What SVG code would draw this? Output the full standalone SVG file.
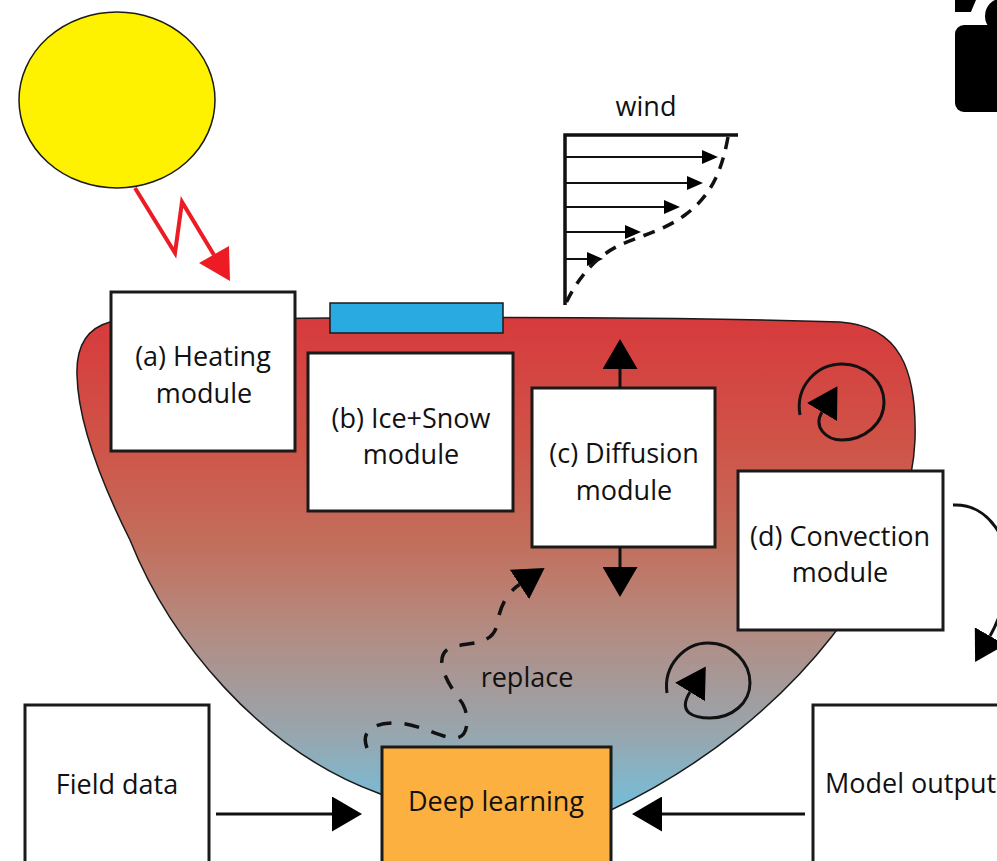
<svg xmlns="http://www.w3.org/2000/svg" width="997" height="861" viewBox="0 0 997 861">
  <style>
    .box { fill: #ffffff; stroke: #1a1a1a; stroke-width: 3; }
    .lbl { font-family: "Open Sans", "Noto Sans", sans-serif; font-size: 27px; fill: #111111; text-anchor: middle; }
    .ln { fill: none; stroke: #111111; stroke-width: 3; }
    .thin { fill: none; stroke: #111111; stroke-width: 2; }
    .dash { fill: none; stroke: #111111; stroke-width: 3.5; stroke-dasharray: 15 13; }
  </style>
  <defs>
    <linearGradient id="water" gradientUnits="userSpaceOnUse" x1="0" y1="318" x2="0" y2="830">
      <stop offset="0" stop-color="#D73A3C"/>
      <stop offset="0.25" stop-color="#CF5448"/>
      <stop offset="0.45" stop-color="#C2705E"/>
      <stop offset="0.6" stop-color="#B48A80"/>
      <stop offset="0.72" stop-color="#A59A9A"/>
      <stop offset="0.82" stop-color="#96A7B0"/>
      <stop offset="0.92" stop-color="#7EB8CF"/>
      <stop offset="1" stop-color="#66C2E2"/>
    </linearGradient>
    <marker id="big" viewBox="0 0 30 35" refX="0" refY="17.5" markerWidth="30" markerHeight="35" markerUnits="userSpaceOnUse" orient="auto">
      <path d="M0,0 L30,17.5 L0,35 Z" fill="#000"/>
    </marker>
    <marker id="small" viewBox="0 0 16 14" refX="0" refY="7" markerWidth="16" markerHeight="14" markerUnits="userSpaceOnUse" orient="auto">
      <path d="M0,0 L16,7 L0,14 Z" fill="#000"/>
    </marker>
  </defs>

  <!-- sun and radiation -->
  <g id="sun">
    <ellipse cx="117" cy="100" rx="98" ry="88" fill="#FFF200" stroke="#1a1a1a" stroke-width="1.5"/>
  </g>
  <g id="radiation">
    <polyline points="135,188 175,253 182,202 214,255" fill="none" stroke="#ED1C24" stroke-width="4"/>
    <polygon points="230,281 199,263 229,246" fill="#ED1C24"/>
  </g>

  <!-- lake body -->
  <g id="lake">
    <path d="M110,322 C300,316 650,316 840,322 C900,326 917,370 915,440 C910,560 800,720 611,810 L495,840 L378,793 C260,750 170,640 130,540 C100,480 78,420 77,375 C76,345 88,328 110,322 Z" fill="url(#water)" stroke="#1a1a1a" stroke-width="1.5"/>
  </g>

  <!-- ice cover -->
  <g id="ice">
    <rect x="330" y="303" width="173" height="30" fill="#29ABE2" stroke="#1a1a1a" stroke-width="1.5"/>
  </g>

  <!-- wind profile -->
  <g id="wind">
    <text class="lbl" x="646" y="116">wind</text>
    <polyline points="565,305 565,135 738,135" fill="none" stroke="#111" stroke-width="3.5"/>
    <line class="thin" x1="565" y1="157" x2="702" y2="157" marker-end="url(#small)"/>
    <line class="thin" x1="565" y1="183" x2="687" y2="183" marker-end="url(#small)"/>
    <line class="thin" x1="565" y1="207" x2="664" y2="207" marker-end="url(#small)"/>
    <line class="thin" x1="565" y1="232" x2="625" y2="232" marker-end="url(#small)"/>
    <line class="thin" x1="565" y1="259" x2="587" y2="259" marker-end="url(#small)"/>
    <path d="M728,137 C722,170 712,195 685,215 C665,230 640,236 620,245 C595,257 578,278 566,303" fill="none" stroke="#111" stroke-width="3.5" stroke-dasharray="12 9"/>
  </g>

  <!-- modules -->
  <g id="heating">
    <rect class="box" x="111" y="292" width="184" height="159"/>
    <text class="lbl" x="203" y="366">(a) Heating</text>
    <text class="lbl" x="204" y="403">module</text>
  </g>
  <g id="icesnow">
    <rect class="box" x="308" y="353" width="205" height="158"/>
    <text class="lbl" x="411" y="428">(b) Ice+Snow</text>
    <text class="lbl" x="411" y="464">module</text>
  </g>
  <g id="diffusion">
    <rect class="box" x="532" y="388" width="183" height="159"/>
    <text class="lbl" x="624" y="463">(c) Diffusion</text>
    <text class="lbl" x="624" y="500">module</text>
  </g>
  <g id="convection">
    <rect class="box" x="738" y="471" width="205" height="159"/>
    <text class="lbl" x="840" y="546">(d) Convection</text>
    <text class="lbl" x="840" y="582">module</text>
  </g>
  <g id="fielddata">
    <rect class="box" x="25" y="705" width="184" height="170"/>
    <text class="lbl" x="117" y="794">Field data</text>
  </g>
  <g id="deeplearning">
    <rect class="box" x="382" y="747" width="229" height="130" style="fill:#FBB040"/>
    <text class="lbl" x="496" y="811">Deep learning</text>
  </g>
  <g id="modeloutput">
    <rect class="box" x="813" y="705" width="200" height="170"/>
    <text class="lbl" x="825" y="793" style="text-anchor:start">Model output</text>
  </g>

  <!-- open access badge -->
  <g id="badge" fill="#000">
    <rect x="955" y="25" width="60" height="87" rx="9"/>
    <path d="M955,0 L976,0 C974,5 972,9 971,12 L955,12 Z"/>
    <circle cx="1003" cy="16" r="18"/>
  </g>

  <!-- connectors -->
  <g id="connectors">
    <line class="ln" x1="620" y1="388" x2="620" y2="369" marker-end="url(#big)"/>
    <line class="ln" x1="620" y1="547" x2="620" y2="567" marker-end="url(#big)"/>
    <path class="ln" d="M800,415 C795,386 817,364 842,364 C866,364 884,382 884,402 C884,424 864,440 842,440 C826,440 813,427 822,412" marker-end="url(#big)"/>
    <path class="ln" d="M667,693 C663,665 685,643 708,643 C733,643 750,663 750,683 C750,703 732,718 710,718 C694,718 677,713 690,692" marker-end="url(#big)"/>
    <path class="ln" d="M953,505 C988,503 1012,540 1008,578 C1005,605 998,622 990,636" marker-end="url(#big)"/>
    <path class="dash" d="M367,748 C360,730 375,722 398,723 C420,724 440,738 455,738 C470,738 470,712 460,700 C445,680 432,655 452,647 C472,642 492,645 497,625 C500,605 508,592 519.5,584.5" marker-end="url(#big)"/>
    <text class="lbl" x="527" y="687">replace</text>
    <line class="ln" x1="216" y1="814" x2="332" y2="814" marker-end="url(#big)"/>
    <line class="ln" x1="805" y1="814" x2="662" y2="814" marker-end="url(#big)"/>
  </g>
</svg>
